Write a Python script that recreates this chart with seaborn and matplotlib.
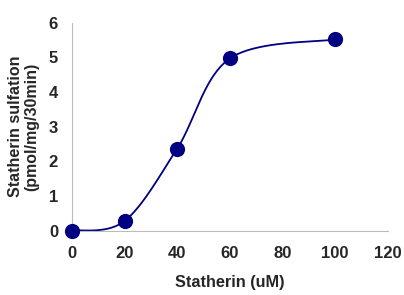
import numpy as np
import pandas as pd
import seaborn as sns
import matplotlib.pyplot as plt

# data
statherin_um = [0, 20, 40, 60, 100]
sulfation = [0.0, 0.28, 2.37, 4.97, 5.52]
x_ticks = [0, 20, 40, 60, 80, 100, 120]
y_ticks = [0, 1, 2, 3, 4, 5, 6]

sns.set_style('white')
plt.rcParams['font.family'] = ['Liberation Sans', 'DejaVu Sans']
plt.rcParams['font.weight'] = 'bold'

df = pd.DataFrame({'x': statherin_um, 'y': sulfation})


def smooth_line(xs, ys, n=40):
    # Excel style smoothed line: Catmull-Rom through the data points as Bezier segments
    p = np.column_stack([xs, ys]).astype(float)
    p = np.vstack([p[0], p, p[-1]])
    out = []
    t = np.linspace(0, 1, n)[:, None]
    for i in range(1, len(p) - 2):
        p0, p3 = p[i], p[i + 1]
        c1 = p0 + (p[i + 1] - p[i - 1]) / 6
        c2 = p3 - (p[i + 2] - p[i]) / 6
        seg = ((1 - t) ** 3) * p0 + 3 * ((1 - t) ** 2) * t * c1 + 3 * (1 - t) * t ** 2 * c2 + t ** 3 * p3
        out.append(seg)
    out = np.vstack(out)
    return out[:, 0], out[:, 1]


fig = plt.figure(figsize=(4.04, 2.95), dpi=100)
ax = fig.add_axes([0.178, 0.218, 0.782, 0.705])

cx, cy = smooth_line(df['x'], df['y'])
ax.plot(cx, cy, color='#000080', lw=1.3, zorder=2)
sns.scatterplot(data=df, x='x', y='y', s=120, color='#000080', edgecolor='#000080',
                linewidth=0, ax=ax, zorder=3, clip_on=False)

ax.set_xlim(0, 120)
ax.set_ylim(0, 6)
ax.set_xticks(x_ticks)
ax.set_yticks(y_ticks)
ax.tick_params(axis='x', direction='out', length=4, width=0.8, color='#bbbbbb',
               labelsize=12, pad=7)
ax.tick_params(axis='y', direction='out', length=4, width=0.8, color='#bbbbbb',
               labelsize=12, pad=6)
for lab in ax.get_xticklabels() + ax.get_yticklabels():
    lab.set_fontweight('bold')

sns.despine(ax=ax)
for s in ['left', 'bottom']:
    ax.spines[s].set_color('#bbbbbb')
    ax.spines[s].set_linewidth(0.8)

ax.set_xlabel('Statherin (uM)', fontsize=11.7, fontweight='bold', labelpad=10)
ax.set_ylabel('Statherin sulfation\n(pmol/mg/30min)', fontsize=11.5, fontweight='bold',
              labelpad=7, linespacing=1.05)

fig.savefig('out.png', dpi=100)
